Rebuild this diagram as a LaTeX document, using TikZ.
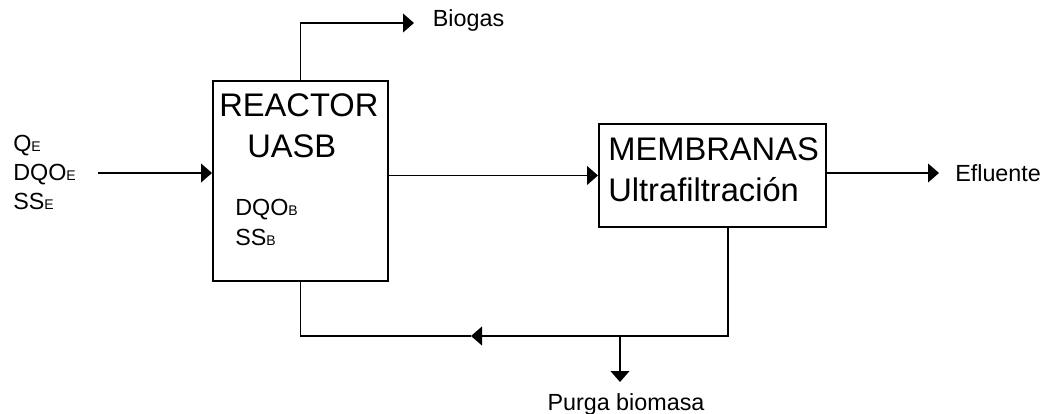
\documentclass[tikz,border=0pt]{standalone}
\usepackage{fontspec}
\setmainfont{Liberation Sans}
\usetikzlibrary{arrows.meta, positioning}

% small index letters sit on the baseline
\newcommand{\flowsub}[1]{{\fontsize{10.5}{12}\selectfont #1}}

\tikzset{
    unit/.style={
        rectangle, draw=black, line width=1.45pt,
        inner sep=0pt
    },
    title/.style={
        inner sep=0pt, align=left, font=\fontsize{24.5}{30.75}\selectfont
    },
    stream/.style={
        inner sep=0pt, align=left, font=\fontsize{17.5}{22}\selectfont
    },
    pipe/.style={line width=1.45pt},
    flow/.style={-{Triangle[length=8.25pt, width=14pt]}, line width=1.45pt}
}

\begin{document}
\begin{tikzpicture}[x=0.75pt, y=-0.75pt]
    \useasboundingbox (0,0) rectangle (1051,414);

    % --- Process units ---
    \node[unit, minimum width=131.25pt, minimum height=150pt] (uasb) at (300.5,181) {};
    \node[unit, minimum width=170.25pt, minimum height=77.25pt] (memb) at (712.5,175.5) {};

    % --- Text inside the units ---
    \node[title, below right=9.75pt and 5.25pt of uasb.north west] (uasb title) {REACTOR\\\hspace*{21pt}UASB};
    \node[stream, font=\fontsize{17.5}{22.5}\selectfont,
          below right=89.25pt and 17.25pt of uasb.north west] (uasb out) {DQO\flowsub{B}\\SS\flowsub{B}};
    \node[title, below right=10.5pt and 7.5pt of memb.north west] (memb title) {MEMBRANAS\\Ultrafiltración};

    % --- Stream end points ---
    \coordinate (feed) at (98,173);
    \coordinate (gas) at (414,23);
    \coordinate (eff) at (939,173);
    \coordinate (ret) at (728,336);
    \coordinate (ret mid) at (471,336);
    \coordinate (purge) at (620,336);
    \coordinate (purge out) at (620,382);

    % --- Stream labels ---
    \node[stream, font=\fontsize{17.5}{21.75}\selectfont, anchor=north west] (feed lbl) at (13,135) {Q\flowsub{E}\\DQO\flowsub{E}\\SS\flowsub{E}};
    \node[stream, right=14pt of gas, yshift=2pt] (gas lbl) {Biogas};
    \node[stream, right=12pt of eff] (eff lbl) {Efluente};
    \node[stream, below=8.25pt of purge out, xshift=4.5pt] (purge lbl) {Purga biomasa};

    % --- Streams ---
    \draw[flow] (feed) -- (feed -| uasb.west);
    \draw[flow] (uasb.north) |- (gas);
    \draw[flow] (uasb.east |- memb.west) -- (memb.west);
    \draw[flow] (memb.east |- eff) -- (eff);
    \draw[flow] (ret |- memb.south) -- (ret) -- (ret mid);
    \draw[pipe] (ret mid) -- (uasb.south |- ret) -- (uasb.south);
    \draw[flow] (purge) -- (purge out);

\end{tikzpicture}
\end{document}
